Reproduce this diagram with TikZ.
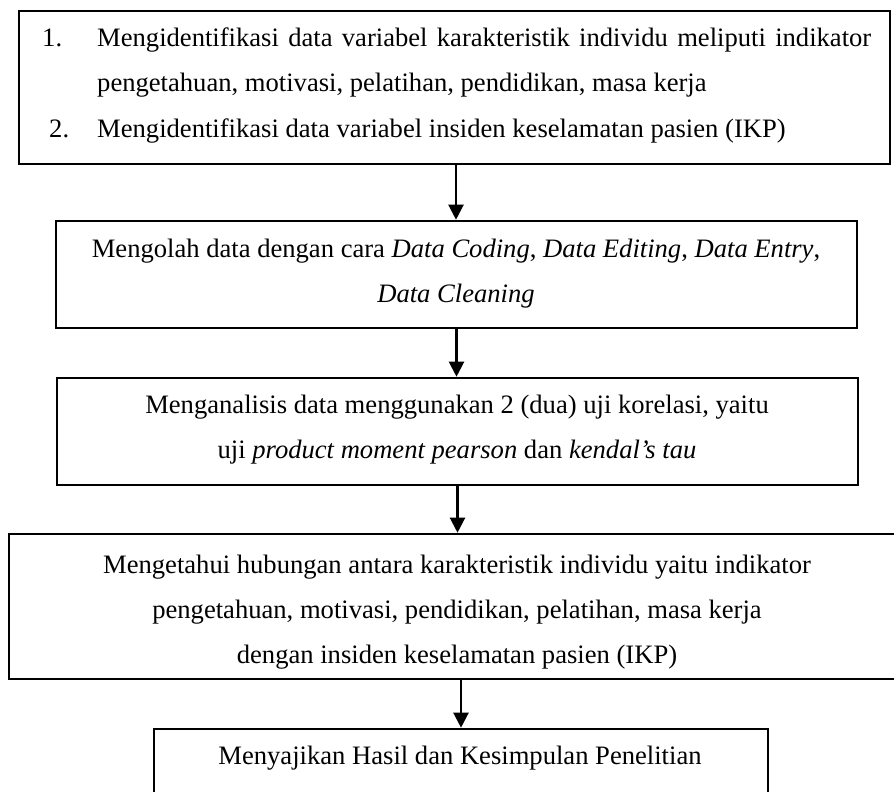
\documentclass[tikz,border=0pt]{standalone}
\usepackage{fontspec}
\setmainfont{Liberation Serif}
\usetikzlibrary{arrows.meta}
\begin{document}
\begin{tikzpicture}[x=1pt,y=-1pt,
  box/.style={draw=black,line width=2.6pt,rectangle,inner sep=0pt,fill=none},
  txt/.style={inner sep=0pt,font=\fontsize{26.6}{45}\selectfont},
  arr/.style={draw=black,line width=2.2pt,-{Triangle[width=15pt,length=15pt]}}]
\useasboundingbox (0,0) rectangle (894,792);
\clip (0,0) rectangle (894,792);
% boxes
\node[box,minimum width=871pt,minimum height=153pt] (b1) at (454.5,87.5) {};
\node[box,minimum width=801pt,minimum height=107pt] (b2) at (456.5,274.5) {};
\node[box,minimum width=801pt,minimum height=107pt] (b3) at (457.5,431.5) {};
\node[box,minimum width=896pt,minimum height=145pt] (b4) at (457,606.5) {};
\node[box,minimum width=614pt,minimum height=80pt] (b5) at (461,769) {};
% box 1 text
\node[txt,anchor=base west] (n1) at (42,47) {1.};
\node[txt,anchor=base west] (l11) at (97,47) {\makebox[774pt][s]{Mengidentifikasi data variabel karakteristik individu meliputi indikator}};
\node[txt,anchor=base west] (l12) at (97,92) {pengetahuan, motivasi, pelatihan, pendidikan, masa kerja};
\node[txt,anchor=base west] (n2) at (49,137) {2.};
\node[txt,anchor=base west] (l13) at (97,137) {Mengidentifikasi data variabel insiden keselamatan pasien (IKP)};
% box 2 text
\node[txt,anchor=base] (l21) at (456,257) {Mengolah data dengan cara \textit{Data Coding}, \textit{Data Editing}, \textit{Data Entry},};
\node[txt,anchor=base] (l22) at (456,302) {\textit{Data Cleaning}};
% box 3 text
\node[txt,anchor=base] (l31) at (457,413) {Menganalisis data menggunakan 2 (dua) uji korelasi, yaitu};
\node[txt,anchor=base] (l32) at (457,458) {uji \textit{product moment pearson} dan \textit{kendal’s tau}};
% box 4 text
\node[txt,anchor=base] (l41) at (457,573) {Mengetahui hubungan antara karakteristik individu yaitu indikator};
\node[txt,anchor=base] (l42) at (457,618) {pengetahuan, motivasi, pendidikan, pelatihan, masa kerja};
\node[txt,anchor=base] (l43) at (457,663) {dengan insiden keselamatan pasien (IKP)};
% box 5 text
\node[txt,anchor=base] (l51) at (460,764) {Menyajikan Hasil dan Kesimpulan Penelitian};
% arrows
\draw[arr] ([xshift=1.5pt]b1.south) -- ([xshift=1.5pt]b1.south |- b2.north);
\draw[arr] (b2.south) -- (b2.south |- b3.north);
\draw[arr] (b3.south) -- (b3.south |- b4.north);
\draw[arr] (b5.north |- b4.south) -- (b5.north);
\end{tikzpicture}
\end{document}
